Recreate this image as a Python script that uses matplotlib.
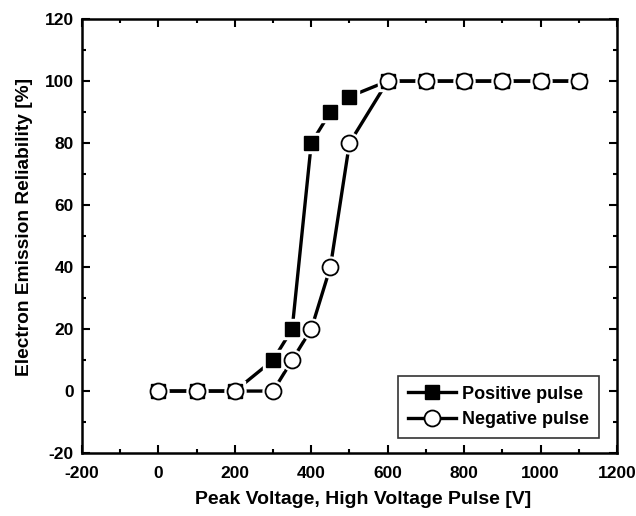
import matplotlib
matplotlib.use("Agg")
import matplotlib.pyplot as plt
from matplotlib.ticker import MultipleLocator

plt.rcParams['font.family'] = ['Liberation Sans', 'DejaVu Sans']
plt.rcParams['font.weight'] = 'bold'
plt.rcParams['axes.unicode_minus'] = False

# data
pos_v = [0, 100, 200, 300, 350, 400, 450, 500, 600, 700, 800, 900, 1000, 1100]
pos_rel = [0, 0, 0, 10, 20, 80, 90, 95, 100, 100, 100, 100, 100, 100]
neg_v = [0, 100, 200, 300, 350, 400, 450, 500, 600, 700, 800, 900, 1000, 1100]
neg_rel = [0, 0, 0, 0, 10, 20, 40, 80, 100, 100, 100, 100, 100, 100]

fig = plt.figure(figsize=(6.36, 5.16), dpi=100)
ax = fig.add_axes([0.129, 0.122, 0.841, 0.841])

# lines first, then a white halo so the line stops short of each marker
ax.plot(pos_v, pos_rel, '-', color='black', lw=2.4, zorder=2)
ax.plot(neg_v, neg_rel, '-', color='black', lw=2.4, zorder=2)
ax.plot(pos_v, pos_rel, 's', color='white', ms=14, zorder=3)
ax.plot(neg_v, neg_rel, 'o', color='white', ms=15, zorder=3)
ax.plot(pos_v, pos_rel, 's', mfc='black', mec='black', ms=10, zorder=4)
ax.plot(neg_v, neg_rel, 'o', mfc='white', mec='black', mew=1.3, ms=11.5, zorder=5)

# legend handles
h1, = ax.plot([], [], '-s', color='black', lw=2.4, mfc='black', ms=10, label='Positive pulse')
h2, = ax.plot([], [], '-o', color='black', lw=2.4, mfc='white', mew=1.3, ms=11.5, label='Negative pulse')
leg = ax.legend(handles=[h1, h2], loc='lower right', bbox_to_anchor=(0.966, 0.035),
                borderaxespad=0, fontsize=13, frameon=True, fancybox=False, edgecolor='black',
                handlelength=2.7, handletextpad=0.3, borderpad=0.55, labelspacing=0.45)
leg.get_frame().set_linewidth(1.2)

ax.set_xlim(-200, 1200)
ax.set_ylim(-20, 120)
ax.xaxis.set_major_locator(MultipleLocator(200))
ax.xaxis.set_minor_locator(MultipleLocator(100))
ax.yaxis.set_major_locator(MultipleLocator(20))
ax.yaxis.set_minor_locator(MultipleLocator(10))
ax.tick_params(which='both', direction='in', top=True, right=True, width=1.5)
ax.tick_params(which='major', length=6, labelsize=12.5)
ax.tick_params(axis='x', which='major', pad=9)
ax.tick_params(axis='y', which='major', pad=6)
ax.tick_params(which='minor', length=3)
for s in ax.spines.values():
    s.set_linewidth(1.8)

ax.set_xlabel('Peak Voltage, High Voltage Pulse [V]', fontsize=14, fontweight='bold')
ax.set_ylabel('Electron Emission Reliability [%]', fontsize=13.8, fontweight='bold')
ax.xaxis.set_label_coords(0.525, -0.088)
ax.yaxis.set_label_coords(-0.092, 0.52)

fig.savefig('out.png', dpi=100)
